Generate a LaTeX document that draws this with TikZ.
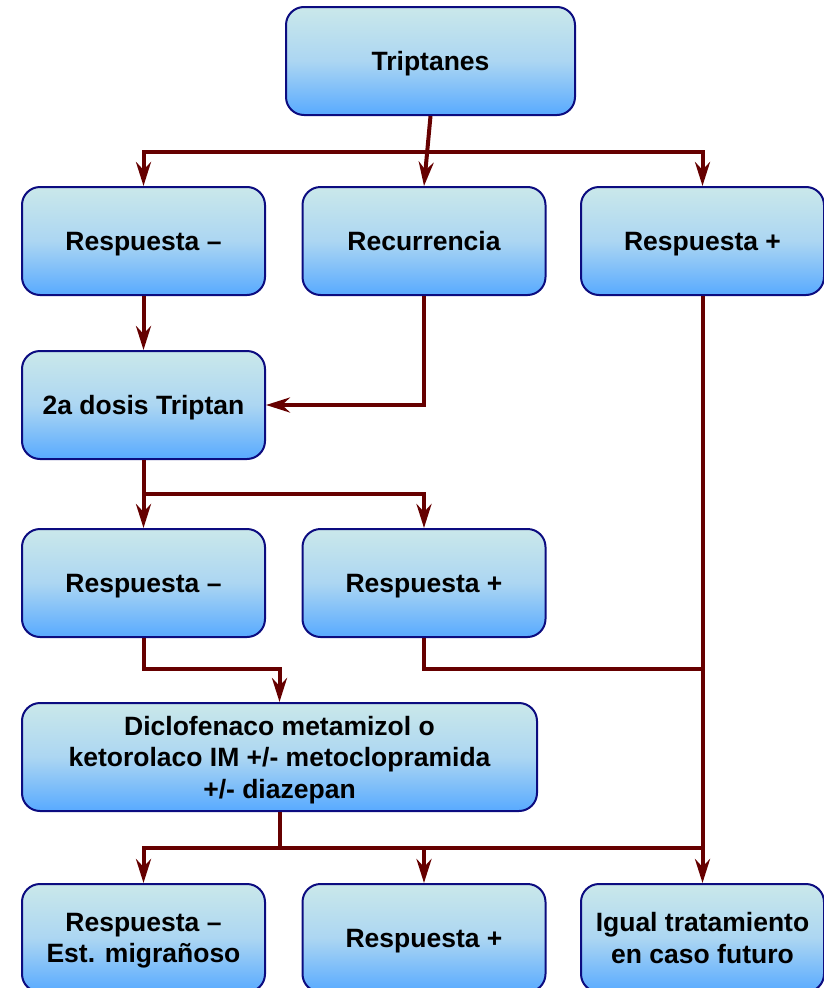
\documentclass[tikz,border=0pt]{standalone}
\usepackage{fontspec}
\setmainfont{Liberation Sans}
\usetikzlibrary{arrows.meta}
\definecolor{wirered}{RGB}{102,0,0}
\definecolor{rim}{RGB}{12,12,128}
\definecolor{boxtop}{RGB}{202,232,234}
\definecolor{boxmid}{RGB}{172,214,242}
\definecolor{boxbot}{RGB}{88,170,255}
\begin{document}
\begin{tikzpicture}[x=1pt,y=-1pt,
  box/.style={draw=rim, line width=2pt, rounded corners=18pt,
    top color=boxtop, bottom color=boxbot, middle color=boxmid,
    minimum height=108pt, minimum width=243pt, align=center,
    font=\fontsize{26.5}{31.5}\selectfont\bfseries, inner sep=0pt,
    text depth=0pt},
  link/.style={draw=wirered, line width=4pt},
  arr/.style={link, -{Stealth[length=24pt,width=15pt,inset=8pt]}}]
\useasboundingbox (0,0) rectangle (823,988);

% boxes
\node[box, minimum width=289pt] (trip) at (430.5,61) {Triptanes};
\node[box] (neg1) at (143.5,241) {Respuesta –};
\node[box] (rec)  at (424,241)   {Recurrencia};
\node[box] (pos1) at (702.5,241) {Respuesta +};
\node[box] (dose) at (143.5,405) {2a dosis Triptan};
\node[box] (neg2) at (143.5,583) {Respuesta –};
\node[box] (pos2) at (424,583)   {Respuesta +};
\node[box, minimum width=515pt] (diclo) at (279.5,757)
  {Diclofenaco metamizol o\\ketorolaco IM +/- metoclopramida\\+/- diazepan};
\node[box] (neg3) at (143.5,938) {Respuesta –\\Est. migrañoso};
\node[box] (pos3) at (424,938)   {Respuesta +};
\node[box] (same) at (702.5,938) {Igual tratamiento\\en caso futuro};

% bus levels
\coordinate (busA) at (0,152);
\coordinate (busB) at (0,494);
\coordinate (busC) at (0,669);
\coordinate (busD) at (0,848);

% connectors
\draw[arr] (trip.south) -- (rec.north);
\draw[arr] (trip.south |- busA) -| (neg1.north);
\draw[arr] (trip.south |- busA) -| (pos1.north);

\draw[arr] (neg1.south) -- (dose.north);
\draw[arr] (rec.south) |- (dose.east);
\draw[arr] (pos1.south) -- (same.north);

\draw[arr] (dose.south) -- (neg2.north);
\draw[arr] (dose.south) |- (pos2.north |- busB) -- (pos2.north);

\draw[arr] (neg2.south) |- (diclo.north |- busC) -- (diclo.north);
\draw[link] (pos2.south) |- (same.north |- busC);

\draw[arr] (diclo.south) |- (neg3.north |- busD) -- (neg3.north);
\draw[arr] (diclo.south) |- (pos3.north |- busD) -- (pos3.north);
\draw[link] (pos3.north |- busD) -- (same.north |- busD);
\end{tikzpicture}
\end{document}
